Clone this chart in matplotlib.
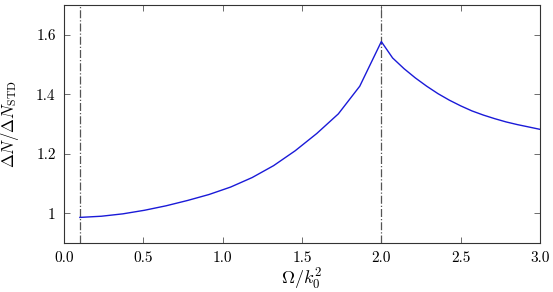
import matplotlib
matplotlib.use("Agg")
import matplotlib.pyplot as plt

plt.rcParams['font.family'] = 'serif'
plt.rcParams['font.serif'] = ['cmr10', 'DejaVu Serif']
plt.rcParams['mathtext.fontset'] = 'cm'
plt.rcParams['axes.unicode_minus'] = False

# Data
omega_left = [0.1, 0.236, 0.371, 0.507, 0.643, 0.779, 0.914, 1.05, 1.186,
              1.321, 1.457, 1.593, 1.729, 1.864, 2.0]
ratio_left = [0.986, 0.990, 0.998, 1.010, 1.025, 1.043, 1.063, 1.088, 1.120,
              1.160, 1.210, 1.268, 1.334, 1.427, 1.577]
omega_right = [2.071, 2.143, 2.214, 2.286, 2.357, 2.429, 2.5, 2.571, 2.643,
               2.714, 2.786, 2.857, 2.929, 3.0]
ratio_right = [1.522, 1.486, 1.455, 1.427, 1.402, 1.380, 1.361, 1.344, 1.330,
               1.318, 1.307, 1.298, 1.290, 1.282]
vlines_x = [0.1, 2.0]
xticks = [0.0, 0.5, 1.0, 1.5, 2.0, 2.5, 3.0]
xticklabels = ['0.0', '0.5', '1.0', '1.5', '2.0', '2.5', '3.0']
yticks = [1.0, 1.2, 1.4, 1.6]
yticklabels = ['1', '1.2', '1.4', '1.6']

omega = omega_left + omega_right
ratio = ratio_left + ratio_right

fig = plt.figure(figsize=(5.53, 2.92), dpi=100)
ax = fig.add_axes([0.1157, 0.1678, 0.8608, 0.8151])

for xv in vlines_x:
    ax.axvline(xv, color='#555555', linestyle='-.', linewidth=0.9, zorder=1)
ax.plot(omega, ratio, color='#1a1ad8', linewidth=1.0, zorder=2)

ax.set_xlim(0, 3)
ax.set_ylim(0.9, 1.7)
ax.set_xticks(xticks)
ax.set_xticklabels(xticklabels)
ax.set_yticks(yticks)
ax.set_yticklabels(yticklabels)
ax.tick_params(direction='in', top=True, right=True, length=4, width=0.6,
               color='#555555', labelsize=11, pad=6)
for s in ax.spines.values():
    s.set_color('#333333')
    s.set_linewidth(0.8)

ax.set_xlabel(r'$\Omega/k_0^2$', fontsize=13, labelpad=1)
ax.set_ylabel(r'$\Delta N/\Delta N_{\mathrm{STD}}$', fontsize=12, labelpad=11)

fig.savefig('out.png', dpi=100)
